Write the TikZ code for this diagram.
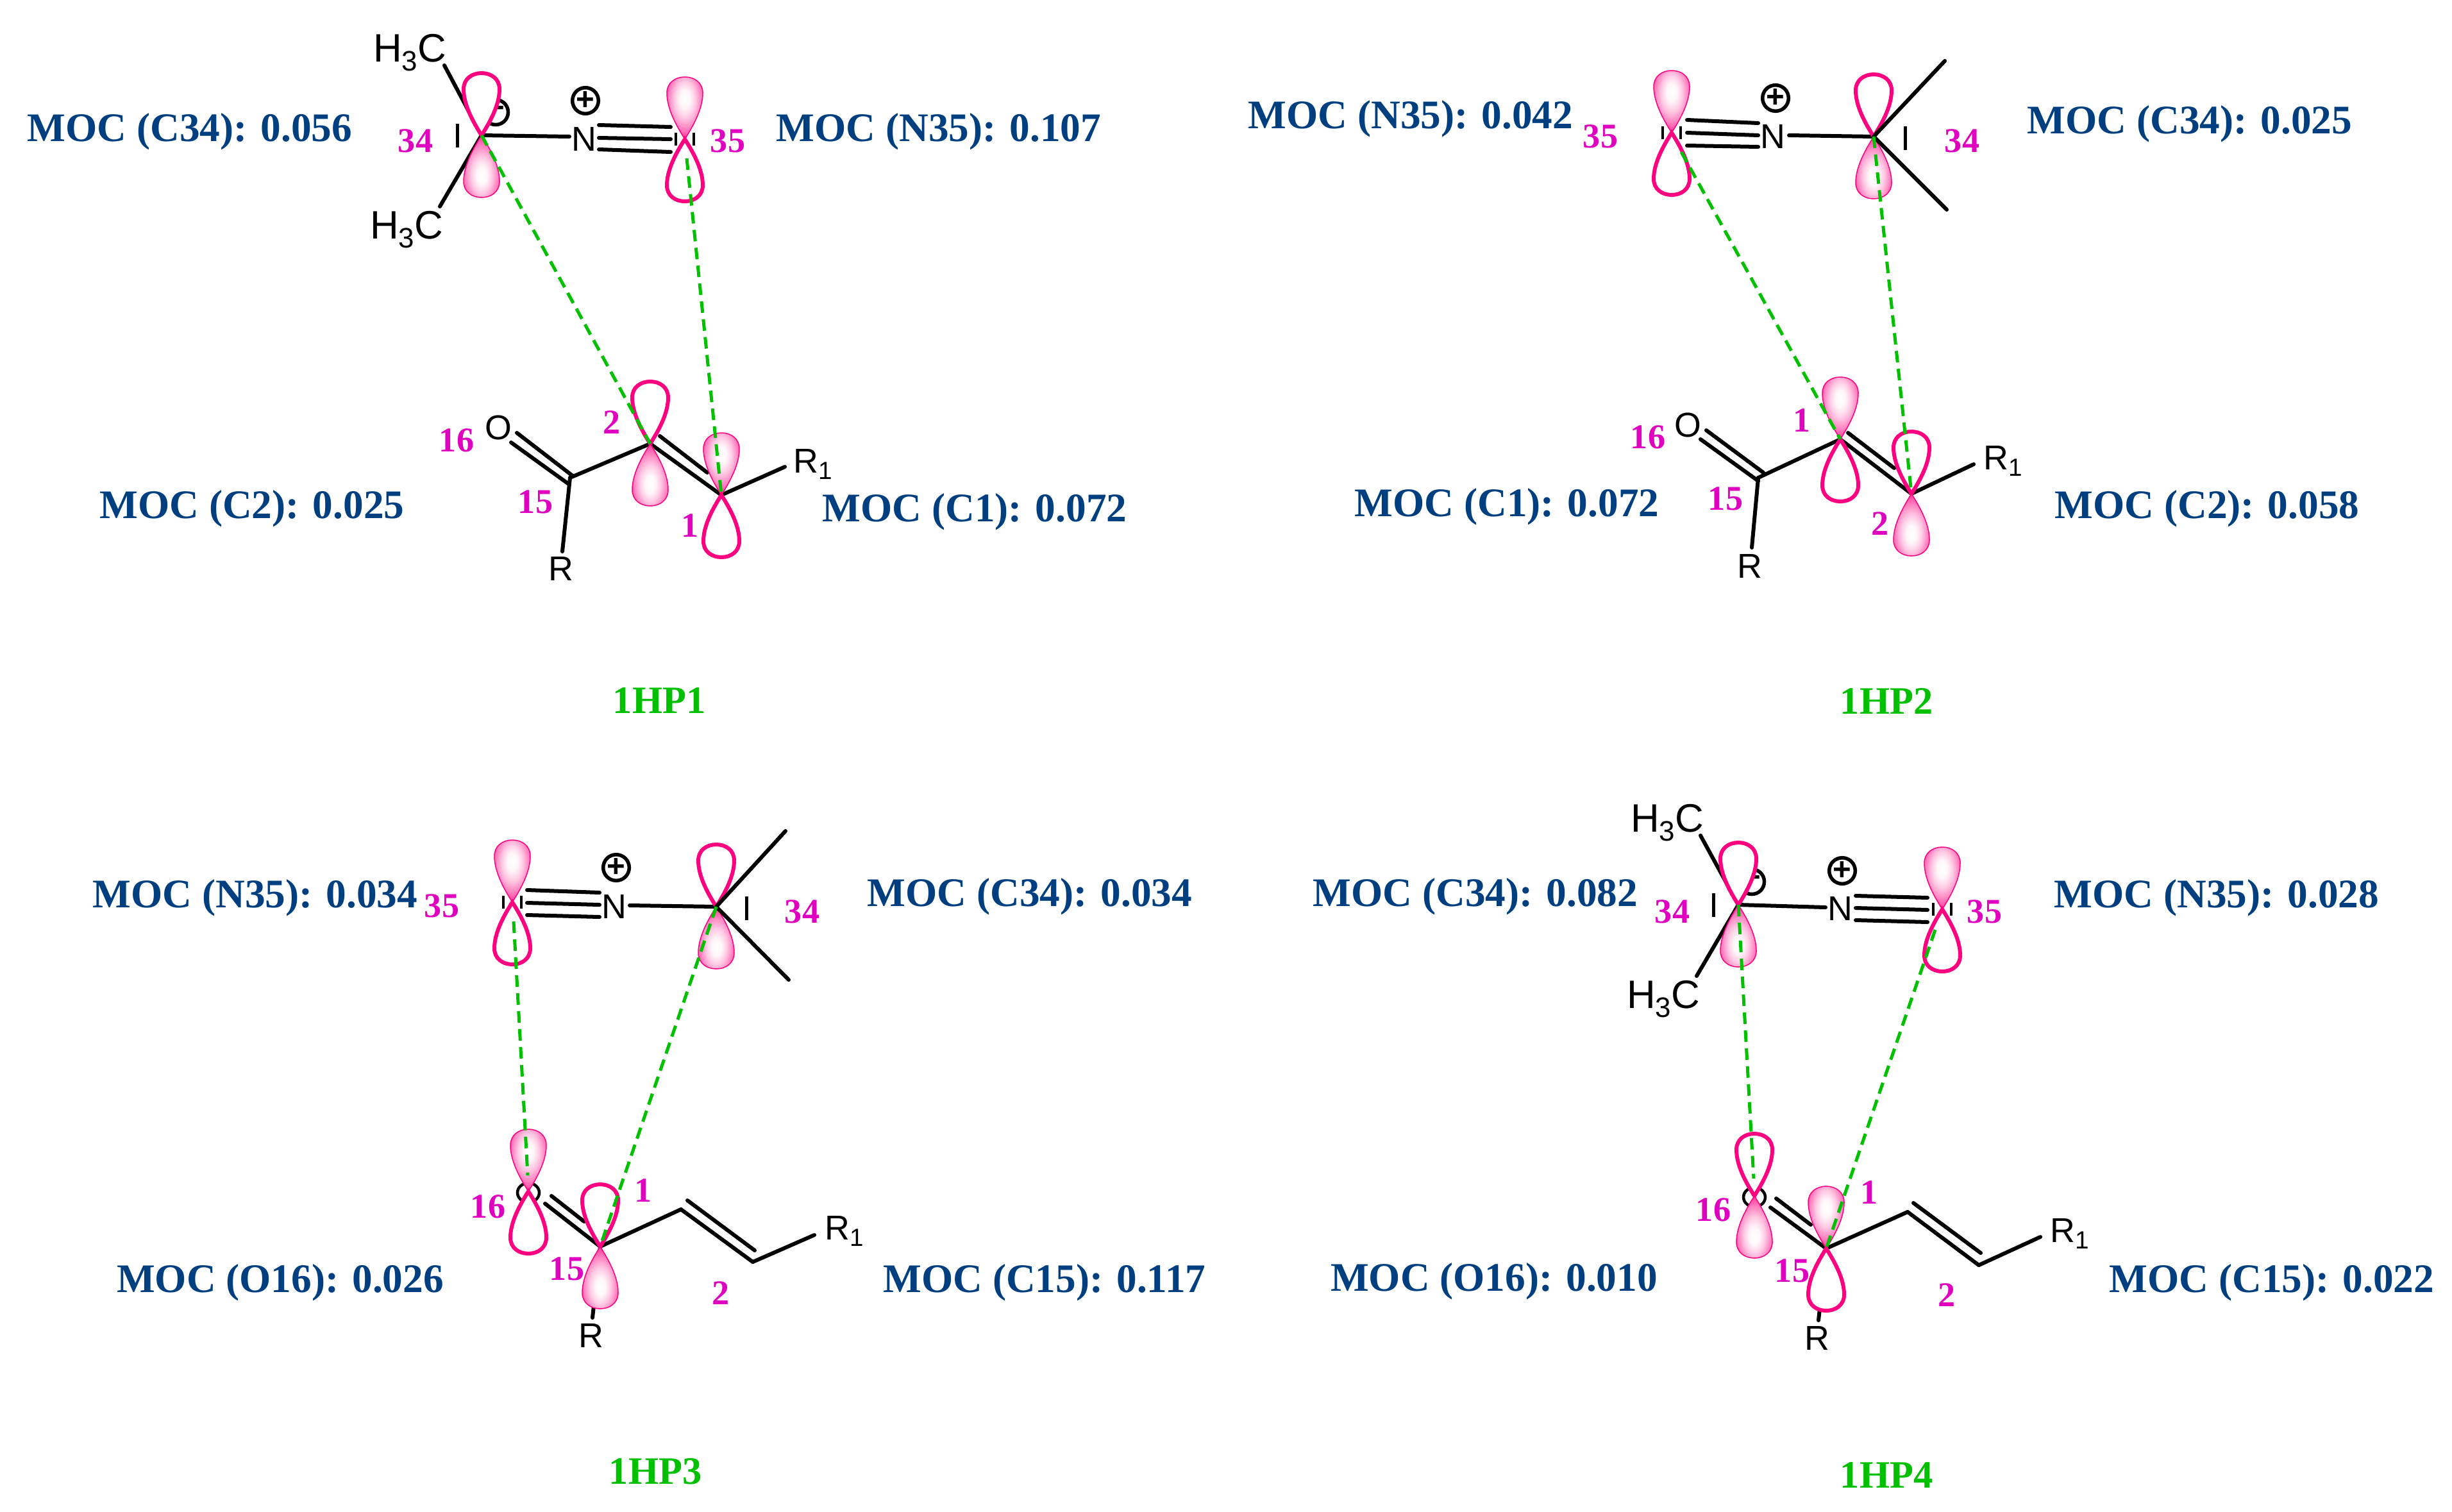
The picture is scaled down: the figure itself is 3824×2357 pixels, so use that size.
\documentclass[tikz,border=0pt]{standalone}
\usepackage{fontspec}
\setmainfont{Liberation Serif}
\newfontfamily\atomfont{Liberation Sans}
\definecolor{mocblue}{RGB}{0,63,127}
\definecolor{lobepink}{RGB}{255,0,128}
\definecolor{numpink}{RGB}{224,0,192}
\definecolor{dashgreen}{RGB}{0,192,0}
\pgfdeclareradialshading{lobeshade}{\pgfpoint{0bp}{8bp}}{rgb(0bp)=(1,1,1); rgb(7bp)=(1,0.97,0.98); rgb(15bp)=(1,0.78,0.89); rgb(23bp)=(1,0.5,0.75); rgb(31bp)=(1,0.18,0.59); rgb(37bp)=(1,0,0.5); rgb(100bp)=(1,0,0.5)}
\tikzset{
  mocnode/.style={text=mocblue, font=\fontsize{18}{20}\selectfont\bfseries, inner sep=0pt, yshift=-0.05cm},
  numnode/.style={text=numpink, font=\fontsize{15.4}{17}\selectfont\bfseries, inner sep=0pt},
  hpnode/.style={text=dashgreen, font=\fontsize{17.2}{19}\selectfont\bfseries, inner sep=0pt},
  atomnode/.style={font=\fontsize{15.3}{17}\selectfont\atomfont, inner sep=0pt},
  methylnode/.style={font=\fontsize{17.6}{19}\selectfont\atomfont, inner sep=0pt, anchor=base},
  chargenode/.style={circle, draw, line width=0.055cm, inner sep=0pt, minimum size=0.39cm, font=\fontsize{14}{14}\selectfont\atomfont\bfseries},
  bond/.style={line width=0.06cm, line cap=round},
  stub/.style={line width=0.045cm},
  overlap/.style={draw=dashgreen, line width=0.05cm, dash pattern=on 0.18cm off 0.10cm},
  lobefill/.style={shading=lobeshade, draw=lobepink, line width=0.015cm},
  lobeline/.style={draw=lobepink, line width=0.06cm, fill=white},
}
\newcommand{\lobeshape}{(0,0) .. controls (-14,-22) and (-28,-48) .. (-28,-72) .. controls (-28,-88) and (-15,-97) .. (0,-97) .. controls (15,-97) and (28,-88) .. (28,-72) .. controls (28,-48) and (14,-22) .. (0,0) -- cycle}
\newcommand{\fullup}[1]{
  \shade[lobefill, shading angle=0, shift={(#1)}] \lobeshape;
  \draw[lobeline, shift={(#1)}, yscale=-1] \lobeshape;
}
\newcommand{\fulldown}[1]{
  \draw[lobeline, shift={(#1)}] \lobeshape;
  \shade[lobefill, shading angle=180, shift={(#1)}, yscale=-1] \lobeshape;
}
\newcommand{\nstub}[1]{
  \draw[stub, shift={(#1)}] (-14,-10) -- (-14,10) (14,-10) -- (14,10);
}
\newcommand{\ostub}[1]{
  \draw[stub, shift={(#1)}] (0,2) circle [x radius=17, y radius=15];
}
\newcommand{\chemsub}[1]{\raisebox{-0.14cm}{\fontsize{12.5}{13}\selectfont #1}}
\newcommand{\rsub}[1]{\raisebox{-0.1cm}{\fontsize{11}{12}\selectfont #1}}
\begin{document}
\begin{tikzpicture}[x=0.01cm, y=-0.01cm]
\useasboundingbox (0,0) rectangle (3824,2357);

\coordinate (ac34) at (751,211);
\coordinate (an35) at (1068,217);
\coordinate (ac2) at (1014,692);
\coordinate (ac1) at (1125,772);
\coordinate (ac15) at (889,745);
\coordinate (ame1) at (693,102);
\coordinate (ame2) at (686,322);
\coordinate (anb) at (888,213);
\coordinate (at1) at (934,195);
\coordinate (at2) at (1046,198);
\coordinate (at3) at (934,215);
\coordinate (at4) at (1046,217);
\coordinate (at5) at (934,233);
\coordinate (at6) at (1046,237);
\coordinate (ao1) at (806,675);
\coordinate (ao2) at (893,742);
\coordinate (ao3) at (797,690);
\coordinate (ao4) at (887,755);
\coordinate (ar) at (877,860);
\coordinate (acc1) at (1029,680);
\coordinate (acc2) at (1103,737);
\coordinate (ar1) at (1224,728);
\coordinate (ad) at (1071,247);
\node[methylnode] (ah3ca) at (639,96) {H\chemsub{3}C};
\node[methylnode] (ah3cb) at (634,372) {H\chemsub{3}C};
\node[atomnode] (ai) at (714,212) {I};
\node[atomnode] (an) at (911,217) {N};
\node[atomnode] (ao) at (777,667) {O};
\node[atomnode] (ark) at (875,887) {R};
\node[atomnode, anchor=base west] (ark1) at (1237,737) {R\rsub{1}};
\node[chargenode] (amin) at (773,175) {−};
\node[chargenode] (apl) at (913,157) {+};
\nstub{an35}
\draw[bond] (ac34) -- (ame1);
\draw[bond] (ac34) -- (ame2);
\draw[bond] (ac34) -- (anb);
\draw[bond] (at1) -- (at2);
\draw[bond] (at3) -- (at4);
\draw[bond] (at5) -- (at6);
\draw[bond] (ao1) -- (ao2);
\draw[bond] (ao3) -- (ao4);
\draw[bond] (ac15) -- (ar);
\draw[bond] (ac15) -- (ac2);
\draw[bond] (ac2) -- (ac1);
\draw[bond] (acc1) -- (acc2);
\draw[bond] (ac1) -- (ar1);
\fulldown{ac34}
\fullup{an35}
\fulldown{ac2}
\fullup{ac1}
\draw[overlap] (ac34) -- (ac2);
\draw[overlap] (ad) -- (ac1);
\node[numnode] (an34) at (648,220) {34};
\node[numnode] (an35l) at (1135,220) {35};
\node[numnode] (an16) at (712,687) {16};
\node[numnode] (an15) at (835,783) {15};
\node[numnode] (an2) at (954,659) {2};
\node[numnode] (an1) at (1076,820) {1};
\node[mocnode] (am1) at (296,200) {MOC (C34): 0.056};
\node[mocnode] (am2) at (1464,200) {MOC (N35): 0.107};
\node[mocnode] (am3) at (393,788) {MOC (C2): 0.025};
\node[mocnode] (am4) at (1520,793) {MOC (C1): 0.072};
\node[hpnode] (ahp) at (1028,1093) {1HP1};

\coordinate (bn35) at (2607,207);
\coordinate (bc34) at (2922,213);
\coordinate (bc1) at (2870,685);
\coordinate (bc2) at (2981,770);
\coordinate (bc15) at (2742,745);
\coordinate (bme1) at (3033,95);
\coordinate (bme2) at (3036,327);
\coordinate (bnb) at (2790,211);
\coordinate (bt1) at (2631,187);
\coordinate (bt2) at (2742,192);
\coordinate (bt3) at (2631,207);
\coordinate (bt4) at (2742,211);
\coordinate (bt5) at (2631,227);
\coordinate (bt6) at (2742,229);
\coordinate (bo1) at (2661,671);
\coordinate (bo2) at (2750,737);
\coordinate (bo3) at (2652,685);
\coordinate (bo4) at (2742,750);
\coordinate (br) at (2732,854);
\coordinate (bcc1) at (2882,675);
\coordinate (bcc2) at (2954,730);
\coordinate (br1) at (3078,724);
\coordinate (bd) at (2622,237);
\node[atomnode] (bi) at (2972,216) {I};
\node[atomnode] (bn) at (2765,213) {N};
\node[atomnode] (bo) at (2632,663) {O};
\node[atomnode] (brk) at (2729,883) {R};
\node[atomnode, anchor=base west] (brk1) at (3093,732) {R\rsub{1}};
\node[chargenode] (bpl) at (2769,153) {+};
\nstub{bn35}
\draw[bond] (bc34) -- (bnb);
\draw[bond] (bt1) -- (bt2);
\draw[bond] (bt3) -- (bt4);
\draw[bond] (bt5) -- (bt6);
\draw[bond] (bo1) -- (bo2);
\draw[bond] (bo3) -- (bo4);
\draw[bond] (bc15) -- (br);
\draw[bond] (bc15) -- (bc1);
\draw[bond] (bc1) -- (bc2);
\draw[bond] (bcc1) -- (bcc2);
\draw[bond] (bc2) -- (br1);
\fullup{bn35}
\fulldown{bc34}
\fullup{bc1}
\fulldown{bc2}
\draw[bond] (bc34) -- (bme1);
\draw[bond] (bc34) -- (bme2);
\draw[overlap] (bd) -- (bc1);
\draw[overlap] (bc34) -- (bc2);
\node[numnode] (bn35l) at (2496,213) {35};
\node[numnode] (bn34) at (3060,220) {34};
\node[numnode] (bn16) at (2570,682) {16};
\node[numnode] (bn15) at (2691,778) {15};
\node[numnode] (bn1) at (2810,656) {1};
\node[numnode] (bn2) at (2932,817) {2};
\node[mocnode] (bm1) at (2200,180) {MOC (N35): 0.042};
\node[mocnode] (bm2) at (3415,188) {MOC (C34): 0.025};
\node[mocnode] (bm3) at (2350,785) {MOC (C1): 0.072};
\node[mocnode] (bm4) at (3442,788) {MOC (C2): 0.058};
\node[hpnode] (bhp) at (2942,1093) {1HP2};

\coordinate (cn35) at (799,1407);
\coordinate (cc34) at (1117,1414);
\coordinate (co16) at (824,1858);
\coordinate (cc15) at (936,1944);
\coordinate (cc1) at (1062,1886);
\coordinate (cc2) at (1174,1968);
\coordinate (cme1) at (1225,1296);
\coordinate (cme2) at (1230,1528);
\coordinate (cnb) at (982,1412);
\coordinate (ct1) at (822,1388);
\coordinate (ct2) at (935,1392);
\coordinate (ct3) at (822,1408);
\coordinate (ct4) at (935,1411);
\coordinate (ct5) at (822,1427);
\coordinate (ct6) at (935,1430);
\coordinate (co1) at (860,1865);
\coordinate (co2) at (911,1905);
\coordinate (co3) at (850,1877);
\coordinate (cr) at (924,2055);
\coordinate (ccc1) at (1072,1872);
\coordinate (ccc2) at (1177,1950);
\coordinate (cr1) at (1270,1926);
\coordinate (cd) at (801,1437);
\coordinate (ce) at (823,1833);
\node[atomnode] (ci) at (1165,1417) {I};
\node[atomnode] (cn) at (958,1414) {N};
\node[atomnode] (crk) at (922,2083) {R};
\node[atomnode, anchor=base west] (crk1) at (1286,1933) {R\rsub{1}};
\node[chargenode] (cpl) at (961,1353) {+};
\nstub{cn35}
\ostub{co16}
\draw[bond] (cc34) -- (cnb);
\draw[bond] (ct1) -- (ct2);
\draw[bond] (ct3) -- (ct4);
\draw[bond] (ct5) -- (ct6);
\draw[bond] (co1) -- (co2);
\draw[bond] (co3) -- (cc15);
\draw[bond] (cc15) -- (cr);
\draw[bond] (cc15) -- (cc1);
\draw[bond] (cc1) -- (cc2);
\draw[bond] (ccc1) -- (ccc2);
\draw[bond] (cc2) -- (cr1);
\fullup{cn35}
\fulldown{cc34}
\fullup{co16}
\fulldown{cc15}
\draw[bond] (cc34) -- (cme1);
\draw[bond] (cc34) -- (cme2);
\draw[overlap] (cd) -- (ce);
\draw[overlap] (cc34) -- (cc15);
\node[numnode] (cn35l) at (689,1413) {35};
\node[numnode] (cn34) at (1251,1422) {34};
\node[numnode] (cn16) at (761,1882) {16};
\node[numnode] (cn15) at (884,1979) {15};
\node[numnode] (cn1) at (1003,1857) {1};
\node[numnode] (cn2) at (1124,2017) {2};
\node[mocnode] (cm1) at (398,1395) {MOC (N35): 0.034};
\node[mocnode] (cm2) at (1606,1393) {MOC (C34): 0.034};
\node[mocnode] (cm3) at (437,1995) {MOC (O16): 0.026};
\node[mocnode] (cm4) at (1629,1995) {MOC (C15): 0.117};
\node[hpnode] (chp) at (1022,2295) {1HP3};

\coordinate (dc34) at (2711,1411);
\coordinate (dn35) at (3029,1418);
\coordinate (do16) at (2736,1865);
\coordinate (dc15) at (2848,1947);
\coordinate (dc1) at (2975,1890);
\coordinate (dc2) at (3086,1973);
\coordinate (dme1) at (2652,1303);
\coordinate (dme2) at (2646,1522);
\coordinate (dnb) at (2847,1415);
\coordinate (dt1) at (2894,1397);
\coordinate (dt2) at (3006,1400);
\coordinate (dt3) at (2894,1416);
\coordinate (dt4) at (3006,1419);
\coordinate (dt5) at (2894,1435);
\coordinate (dt6) at (3006,1438);
\coordinate (do1) at (2770,1869);
\coordinate (do2) at (2824,1910);
\coordinate (do3) at (2761,1883);
\coordinate (dr) at (2836,2059);
\coordinate (dcc1) at (2984,1876);
\coordinate (dcc2) at (3089,1954);
\coordinate (dr1) at (3182,1929);
\coordinate (dd) at (3018,1450);
\coordinate (de) at (2735,1838);
\node[methylnode] (dh3ca) at (2600,1297) {H\chemsub{3}C};
\node[methylnode] (dh3cb) at (2594,1572) {H\chemsub{3}C};
\node[atomnode] (di) at (2673,1412) {I};
\node[atomnode] (dn) at (2870,1417) {N};
\node[atomnode] (drk) at (2834,2087) {R};
\node[atomnode, anchor=base west] (drk1) at (3197,1937) {R\rsub{1}};
\node[chargenode] (dmin) at (2732,1375) {−};
\node[chargenode] (dpl) at (2873,1358) {+};
\nstub{dn35}
\ostub{do16}
\draw[bond] (dc34) -- (dme1);
\draw[bond] (dc34) -- (dme2);
\draw[bond] (dc34) -- (dnb);
\draw[bond] (dt1) -- (dt2);
\draw[bond] (dt3) -- (dt4);
\draw[bond] (dt5) -- (dt6);
\draw[bond] (do1) -- (do2);
\draw[bond] (do3) -- (dc15);
\draw[bond] (dc15) -- (dr);
\draw[bond] (dc15) -- (dc1);
\draw[bond] (dc1) -- (dc2);
\draw[bond] (dcc1) -- (dcc2);
\draw[bond] (dc2) -- (dr1);
\fulldown{dc34}
\fullup{dn35}
\fulldown{do16}
\fullup{dc15}
\draw[overlap] (dc34) -- (de);
\draw[overlap] (dd) -- (dc15);
\node[numnode] (dn34) at (2608,1422) {34};
\node[numnode] (dn35l) at (3095,1422) {35};
\node[numnode] (dn16) at (2672,1887) {16};
\node[numnode] (dn15) at (2795,1982) {15};
\node[numnode] (dn1) at (2915,1860) {1};
\node[numnode] (dn2) at (3036,2020) {2};
\node[mocnode] (dm1) at (2301,1393) {MOC (C34): 0.082};
\node[mocnode] (dm2) at (3457,1395) {MOC (N35): 0.028};
\node[mocnode] (dm3) at (2330,1993) {MOC (O16): 0.010};
\node[mocnode] (dm4) at (3543,1995) {MOC (C15): 0.022};
\node[hpnode] (dhp) at (2942,2300) {1HP4};
\end{tikzpicture}
\end{document}
